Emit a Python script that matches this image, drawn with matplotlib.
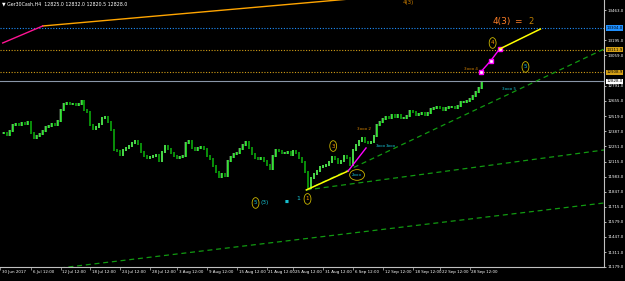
import matplotlib
matplotlib.use("Agg")
from matplotlib import pyplot as plt
from matplotlib.patches import Ellipse

# Ger30Cash H4 closes, one value for every ~3 bars
closes = [12370, 12352, 12388, 12441, 12450, 12441, 12459, 12450, 12468, 12370,
          12326, 12343, 12361, 12388, 12423, 12432, 12450, 12441, 12477, 12574,
          12628, 12637, 12628, 12628, 12619, 12628, 12654, 12574, 12557, 12441,
          12406, 12423, 12450, 12503, 12512, 12468, 12397, 12219, 12210, 12174,
          12219, 12237, 12254, 12281, 12299, 12272, 12201, 12166, 12148, 12157,
          12166, 12174, 12121, 12201, 12254, 12228, 12192, 12166, 12148, 12157,
          12166, 12281, 12299, 12237, 12219, 12237, 12246, 12228, 12166, 12139,
          12077, 12023, 11979, 12006, 11988, 12121, 12157, 12183, 12192, 12228,
          12263, 12290, 12237, 12183, 12148, 12139, 12148, 12121, 12086, 12050,
          12166, 12219, 12210, 12192, 12192, 12201, 12174, 12210, 12192, 12148,
          12112, 12023, 11881, 11970, 12006, 12032, 12068, 12077, 12086, 12112,
          12157, 12139, 12103, 12121, 12166, 12148, 12086, 12219, 12263, 12299,
          12326, 12290, 12281, 12290, 12343, 12441, 12468, 12494, 12512, 12503,
          12530, 12512, 12530, 12503, 12503, 12521, 12566, 12557, 12530, 12539,
          12548, 12530, 12548, 12583, 12592, 12601, 12592, 12574, 12592, 12601,
          12601, 12592, 12610, 12646, 12646, 12654, 12672, 12699, 12734, 12770,
          12814]

date_ticks = [-1.3, 9, 19, 29, 39, 49, 58, 68, 78, 88, 97, 107, 117, 127, 137, 146, 156]
date_labels = ["30 Jun 2017", "6 Jul 12:00", "12 Jul 12:00", "18 Jul 12:00", "24 Jul 12:00",
               "28 Jul 12:00", "3 Aug 12:00", "9 Aug 12:00", "15 Aug 12:00", "21 Aug 12:00",
               "25 Aug 12:00", "31 Aug 12:00", "6 Sep 12:00", "12 Sep 12:00", "18 Sep 12:00",
               "22 Sep 12:00", "28 Sep 12:00"]
price_ticks = [11179, 11311, 11447, 11579, 11715, 11847, 11983, 12115, 12251, 12387,
               12519, 12655, 12791, 13059, 13195, 13463]

# horizontal price lines: (price, label, colour, style)
levels = [(13304.0, "13304.0", "#1e8fff", ":"),
          (13111.9, "13111.9", "#d4a017", ":"),
          (12908.9, "12908.9", "#d4a017", ":"),
          (12828.0, "12828.0", "#8a96a8", "-")]

# trendlines as (bar, price) points
green_up = [(101.3, 11864), (201, 13116)]
green_mid = [(101.3, 11864), (201, 12219)]
green_low = [(18.7, 11170), (201, 11748)]
yellow_1 = [(101.3, 11864), (115.3, 12032)]
magenta_1 = [(115.3, 12032), (121.3, 12237)]
magenta_2 = [(159.7, 12912), (163, 13010), (166, 13116)]
yellow_2 = [(166, 13116), (179.7, 13294)]
orange_top = [(13, 13321), (133, 13601)]
magenta_top = [(-0.4, 13170), (13, 13321)]

fig = plt.figure(figsize=(6.25, 2.81), dpi=100, facecolor="black")
ax = fig.add_axes([0, 14 / 281, 604 / 625, 267 / 281], facecolor="black")
ax.set_xlim(-1 / 3, 201)
ax.set_ylim(11179, 13552)

# candles (body from previous close to this close)
for i, c in enumerate(closes):
    o = closes[i - 1] if i > 0 else c
    lo, hi = min(o, c) - 10, max(o, c) + 10
    col = "#22dd22" if c >= o else "#0a9a0a"
    ax.vlines(i, lo, hi, color=col, lw=1.3)
    if c >= o:
        ax.vlines(i - 0.2, lo, hi, color="#c8ffc8", lw=0.35)

for p, lab, col, ls in levels:
    ax.axhline(p, color=col, lw=0.8, ls=ls, dashes=(1, 1.5) if ls == ":" else (None, None))

def line(pts, col, ls="-", lw=1.0, marker=None):
    xs = [p[0] for p in pts]
    ys = [p[1] for p in pts]
    if ls == "--":
        ax.plot(xs, ys, color=col, lw=lw, dashes=(4, 3))
    else:
        ax.plot(xs, ys, color=col, lw=lw, marker=marker, ms=2.5, mfc="white" if marker else None,
                mec=col)

line(green_up, "#119911", "--", 0.9)
line(green_mid, "#119911", "--", 0.9)
line(green_low, "#119911", "--", 0.9)
line(yellow_1, "#ffff00", lw=1.1)
line(magenta_1, "#ff00ff", lw=1.0)
line(magenta_2, "#ff00ff", lw=1.0, marker="s")
line(yellow_2, "#ffff00", lw=1.1)
line(orange_top, "#ffa500", lw=1.0)
line(magenta_top, "#ff1493", lw=1.0)

# wave labels
fs = 4
ax.text(133.7, 13516, "4(3)", color="#d08000", fontsize=fs)
ax.text(163.7, 13360, "4(3)", color="#ff7f27", fontsize=6.5, va="center")
ax.text(171, 13360, "=", color="#ff7f27", fontsize=6.5, va="center")
ax.text(175.7, 13360, "2", color="#c08000", fontsize=6, va="center")
ax.text(154, 12940, "3ooo 4", color="#d08000", fontsize=3.0, va="center")
ax.text(167, 12762, "3ooo 5", color="#17c0d0", fontsize=3.0, va="center")
ax.text(118.3, 12406, "3ooo 2", color="#d08000", fontsize=3.0, va="center")
ax.text(124.7, 12254, "3ooo", color="#17c0d0", fontsize=3.0, va="center")
ax.text(128, 12254, "3ooo", color="#17c0d0", fontsize=3.0, va="center")
ax.text(98.7, 11784, "1", color="#17c0d0", fontsize=4.5, va="center", ha="center")
ax.text(94.7, 11756, "■", color="#17c0d0", fontsize=3, va="center", ha="center")
ax.text(87.3, 11748, "(3)", color="#17c0d0", fontsize=4.2, va="center", ha="center")

circles = [(163.7, 13170, "4", "#ff9900"), (174.7, 12957, "5", "#17c0d0"),
           (110.3, 12254, "3", "#ff9900"), (101.7, 11784, "1", "#ff9900"),
           (84.3, 11748, "5", "#17c0d0"), (118.3, 11997, "2ooo", "#17c0d0")]
for cx, cy, t, tc in circles:
    w = 5 if len(t) > 1 else 2.3
    ax.add_patch(Ellipse((cx, cy), w, 95, fill=False, ec="#c8b400", lw=0.6))
    ax.text(cx, cy, t, color=tc, fontsize=2.8 if len(t) > 1 else 4, ha="center", va="center")

# axes styling, MT4 look
for s in ["top", "left"]:
    ax.spines[s].set_visible(False)
for s in ["right", "bottom"]:
    ax.spines[s].set_color("#c0c0c0")
    ax.spines[s].set_linewidth(0.8)
ax.yaxis.tick_right()
ax.set_yticks(price_ticks)
ax.set_yticklabels(["%.1f" % p for p in price_ticks])
ax.tick_params(axis="y", colors="white", labelsize=2.9, length=1.5, width=0.5, pad=1)
ax.set_xticks(date_ticks)
ax.set_xticklabels([])
ax.tick_params(axis="x", colors="#c0c0c0", length=2.5, width=0.5, direction="out")
for t, lab in zip(date_ticks, date_labels):
    ax.text(t + 0.6, -0.012, lab, transform=ax.get_xaxis_transform(), color="white",
            fontsize=2.9, ha="left", va="top")

# price boxes on the axis
for p, lab, col, ls in levels:
    fc = "white" if ls == "-" else col
    ax.text(1.004, p, lab, transform=ax.get_yaxis_transform(), fontsize=2.9, color="black",
            va="center", ha="left", bbox=dict(boxstyle="square,pad=0.15", fc=fc, ec="none"))

fig.text(2 / 625, 1 - 4 / 281, "▼ Ger30Cash,H4  12825.0 12832.0 12820.5 12828.0", color="white",
         fontsize=3.4, va="center", ha="left")

fig.savefig("out.png", dpi=100, facecolor="black")
